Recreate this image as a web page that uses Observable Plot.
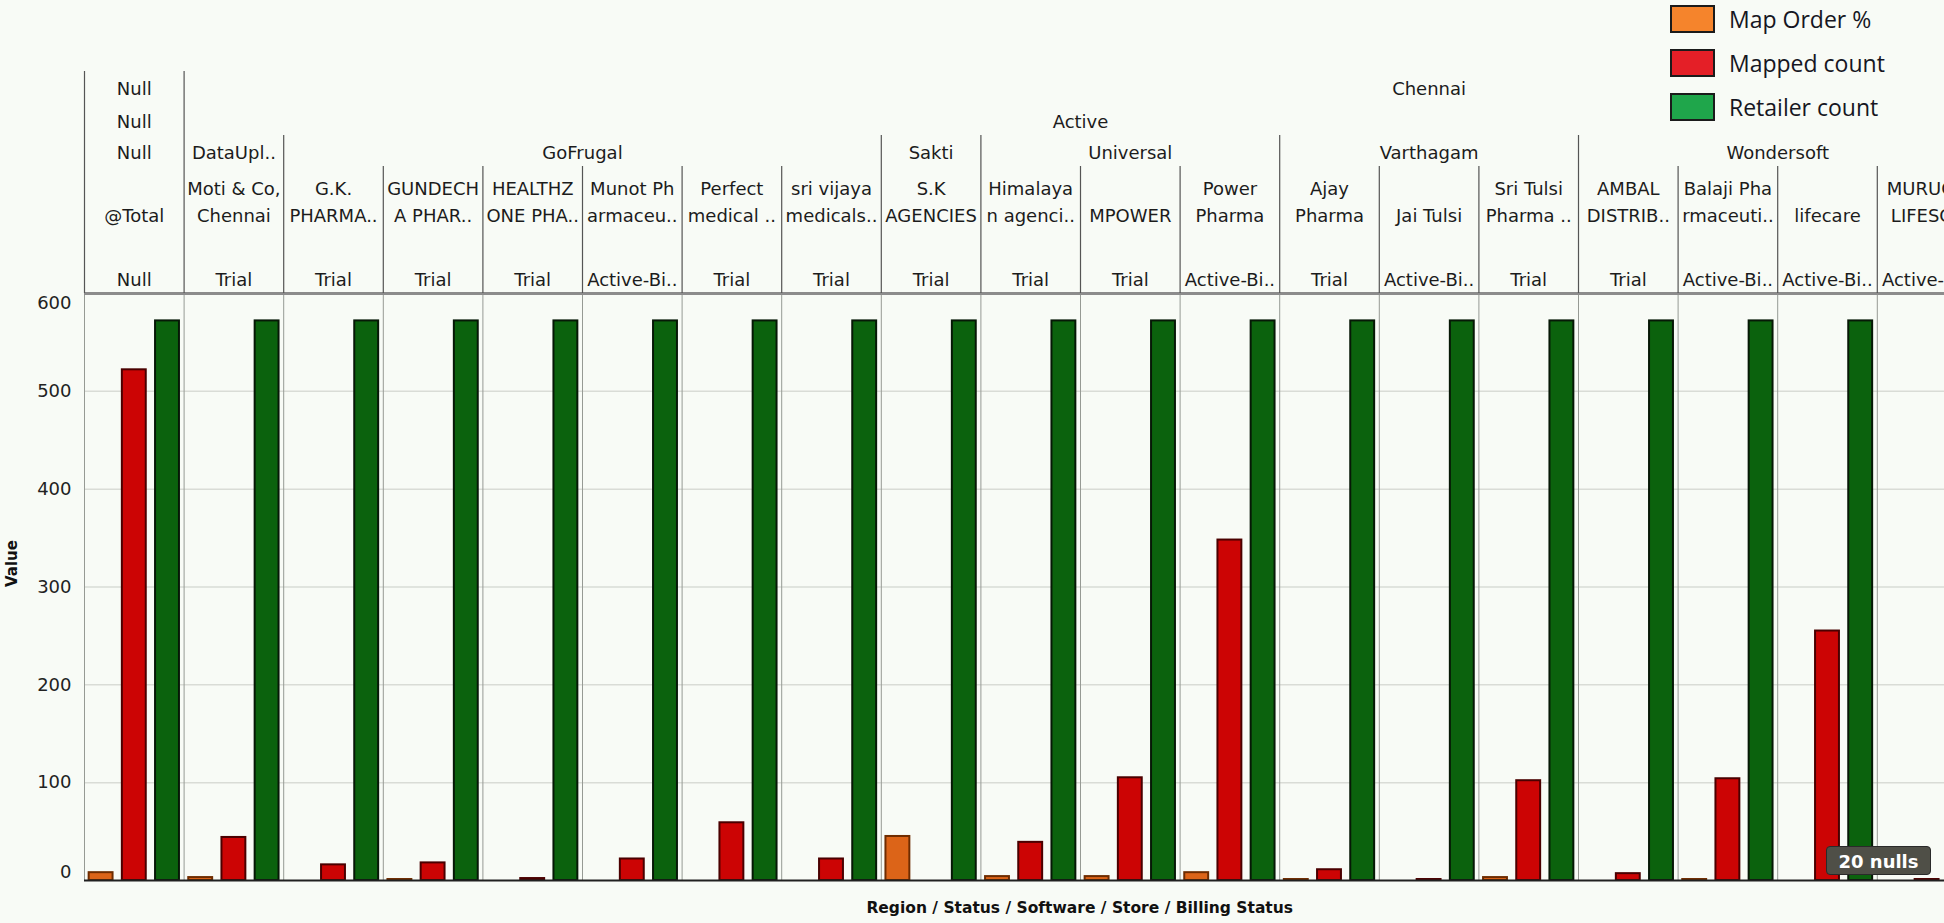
<!DOCTYPE html>
<html>
<head>
<meta charset="utf-8">
<script src="https://cdn.jsdelivr.net/npm/d3@7"></script>
<script src="https://cdn.jsdelivr.net/npm/@observablehq/plot@0.6"></script>
<style>
  html, body { margin: 0; padding: 0; background: #f8fbf6; overflow: hidden; }
  #wrap { position: relative; width: 1944px; height: 923px; overflow: hidden; }
  #legend { position: absolute; left: 1670px; top: 5px; font-family: "Open Sans", sans-serif; font-size: 23px; color: #161622; }
  .lg { display: flex; align-items: center; height: 28px; margin-bottom: 16px; }
  .sw { width: 41px; height: 24px; border: 2px solid #1b1b1b; margin-right: 14px; box-sizing: content-box; }
  #nulls { position: absolute; left: 1826px; top: 846px; width: 105px; height: 29px; background: #4f4f47; border: 1px solid #2a2a2a; border-radius: 4px; color: #fff; font-family: "DejaVu Sans", sans-serif; font-weight: bold; font-size: 18px; line-height: 29px; text-align: center; box-sizing: border-box; }
</style>
</head>
<body>
<div id="wrap">
  <div id="chart"></div>
  <div id="legend"></div>
  <div id="nulls">20 nulls</div>
</div>
<script>
// ---------------- data ----------------
const storeLabels = [
  "@Total", "Moti & Co,\nChennai", "G.K.\nPHARMA..", "GUNDECH\nA PHAR..", "HEALTHZ\nONE PHA..",
  "Munot Ph\narmaceu..", "Perfect\nmedical ..", "sri vijaya\nmedicals..", "S.K\nAGENCIES", "Himalaya\nn agenci..",
  "MPOWER", "Power\nPharma", "Ajay\nPharma", "Jai Tulsi", "Sri Tulsi\nPharma ..",
  "AMBAL\nDISTRIB..", "Balaji Pha\nrmaceuti..", "lifecare", "MURUGA\nLIFESC.."
];
const billingStatus = [
  "Null", "Trial", "Trial", "Trial", "Trial",
  "Active-Bi..", "Trial", "Trial", "Trial", "Trial",
  "Trial", "Active-Bi..", "Trial", "Active-Bi..", "Trial",
  "Trial", "Active-Bi..", "Active-Bi..", "Active-Bi.."
];
// header groups: label with first store index and (exclusive) end index
const regionGroups = [
  {label: "Null", start: 0, end: 1},
  {label: "Chennai", start: 1, end: 26}   // continues past the scrolled view
];
const statusGroups = [
  {label: "Null", start: 0, end: 1},
  {label: "Active", start: 1, end: 19}
];
const softwareGroups = [
  {label: "Null", start: 0, end: 1},
  {label: "DataUpl..", start: 1, end: 2},
  {label: "GoFrugal", start: 2, end: 8},
  {label: "Sakti", start: 8, end: 9},
  {label: "Universal", start: 9, end: 12},
  {label: "Varthagam", start: 12, end: 15},
  {label: "Wondersoft", start: 15, end: 19}
];
const seriesNames = ["Map Order %", "Mapped count", "Retailer count"];
const mapOrderPct   = [8, 3, 0, 1, 0, 0, 0, 0, 45, 4, 4, 8, 1, 0, 3, 0, 1, 0, 0];
const mappedCount   = [522, 44, 16, 18, 2, 22, 59, 22, 0, 39, 105, 348, 11, 1, 102, 7, 104, 255, 1];
const retailerCount = [572, 572, 572, 572, 572, 572, 572, 572, 572, 572, 572, 572, 572, 572, 572, 572, 572, 572, 572];
const yTicks = [0, 100, 200, 300, 400, 500, 600];
const yAxisTitle = "Value";
const xAxisTitle = "Region / Status / Software / Store / Billing Status";

// ---------------- styles / layout ----------------
const W = 1944, H = 923;
const mL = 84, mT = 293, mB = 43;
const colPx = 99.6;
const nCols = storeLabels.length;
const mR = W - mL - nCols * colPx;       // last column runs past the right edge
const frameH = H - mT - mB;
const barFill   = ["#dc6418", "#cc0404", "#0b620d"];
const barStroke = ["#6e2c00", "#4a0000", "#061806"];
const legendFill = ["#f5842c", "#e41f27", "#1fa64b"];
const halfBar = 0.12;
const font = "DejaVu Sans, sans-serif";

const seriesValues = [mapOrderPct, mappedCount, retailerCount];
const bars = [];
seriesValues.forEach((vals, k) => vals.forEach((v, i) => bars.push({i, k, series: seriesNames[k], value: v})));

// boundaries between columns and their header level
const regionB = new Set(), softB = new Set();
for (const g of [...regionGroups, ...statusGroups]) { regionB.add(g.start); }
for (const g of softwareGroups) { softB.add(g.start); }
const bounds = d3.range(0, nCols + 1);
const tallB = bounds.filter(b => regionB.has(b));
const midB = bounds.filter(b => !regionB.has(b) && softB.has(b));
const lowB = bounds.filter(b => !regionB.has(b) && !softB.has(b));

const storeRows = storeLabels.map((s, i) => ({i, label: s, billing: billingStatus[i]}));
const center = d => (d.start + d.end) / 2;

const headerText = (data, dy, extra = {}) => Plot.text(data, {
  x: center, text: "label", frameAnchor: "top", dy, fontSize: 18, fill: "#1c1c1c", ...extra
});

const marks = [
  Plot.ruleY(yTicks.filter(t => t > 0 && t < 600), {stroke: "#d9dcd6", strokeWidth: 1.5}),
  Plot.ruleX(bounds, {x: d => d, stroke: "#969a94", strokeWidth: 1}),
  ...[0, 1, 2].map(k => Plot.rect(bars.filter(d => d.k === k && d.value > 0), {
    x1: d => d.i + (d.k + 0.5) / 3 - halfBar,
    x2: d => d.i + (d.k + 0.5) / 3 + halfBar,
    y1: 0, y2: "value",
    fill: barFill[k], stroke: barStroke[k], strokeWidth: 2
  })),
  Plot.ruleY([0], {stroke: "#202020", strokeWidth: 2}),
  Plot.ruleY([600], {stroke: "#8c8c8c", strokeWidth: 3}),
  // header separators
  Plot.ruleX(tallB, {x: d => d, insetTop: -(mT - 71), insetBottom: frameH, stroke: "#555", strokeWidth: 1.2}),
  Plot.ruleX(midB, {x: d => d, insetTop: -(mT - 135), insetBottom: frameH, stroke: "#555", strokeWidth: 1.2}),
  Plot.ruleX(lowB, {x: d => d, insetTop: -(mT - 166), insetBottom: frameH, stroke: "#555", strokeWidth: 1.2}),
  // header texts
  headerText(regionGroups, 82 - mT),
  headerText(statusGroups, 115 - mT),
  headerText(softwareGroups, 146 - mT),
  Plot.text(storeRows, {x: d => d.i + 0.5, text: "label", frameAnchor: "top", dy: 221 - mT,
    lineAnchor: "bottom", lineHeight: 1.5, fontSize: 18, fill: "#1c1c1c"}),
  Plot.text(storeRows, {x: d => d.i + 0.5, text: "billing", frameAnchor: "top", dy: 273 - mT,
    fontSize: 18, fill: "#1c1c1c"}),
  // y tick labels
  Plot.text(yTicks.filter(t => t > 0 && t < 600), {y: d => d, text: d => String(d), frameAnchor: "left", dx: -13, textAnchor: "end", fontSize: 18, fill: "#222"}),
  Plot.text([0], {y: d => d, text: d => String(d), frameAnchor: "left", dx: -13, dy: -8, textAnchor: "end", fontSize: 18, fill: "#222"}),
  Plot.text([600], {y: d => d, text: d => String(d), frameAnchor: "left", dx: -13, dy: 10, textAnchor: "end", fontSize: 18, fill: "#222"}),
  // axis titles
  Plot.text([yAxisTitle], {text: d => d, frameAnchor: "left", dx: -72, rotate: -90, fontSize: 15, fontWeight: "bold", fill: "#111"}),
  Plot.text([xAxisTitle], {text: d => d, frameAnchor: "bottom", dx: 49, dy: 32, fontSize: 15.5, fontWeight: "bold", fill: "#111"})
];

const chart = Plot.plot({
  width: W, height: H,
  marginLeft: mL, marginRight: mR, marginTop: mT, marginBottom: mB,
  x: {type: "linear", domain: [0, nCols], axis: null},
  y: {domain: [0, 600], axis: null},
  style: {background: "#f8fbf6", fontFamily: font, overflow: "hidden"},
  marks
});
document.getElementById("chart").appendChild(chart);

// legend
const legend = document.getElementById("legend");
seriesNames.forEach((name, k) => {
  const row = document.createElement("div");
  row.className = "lg";
  const sw = document.createElement("div");
  sw.className = "sw";
  sw.style.background = legendFill[k];
  const t = document.createElement("span");
  t.textContent = name;
  row.appendChild(sw); row.appendChild(t);
  legend.appendChild(row);
});
</script>
</body>
</html>
